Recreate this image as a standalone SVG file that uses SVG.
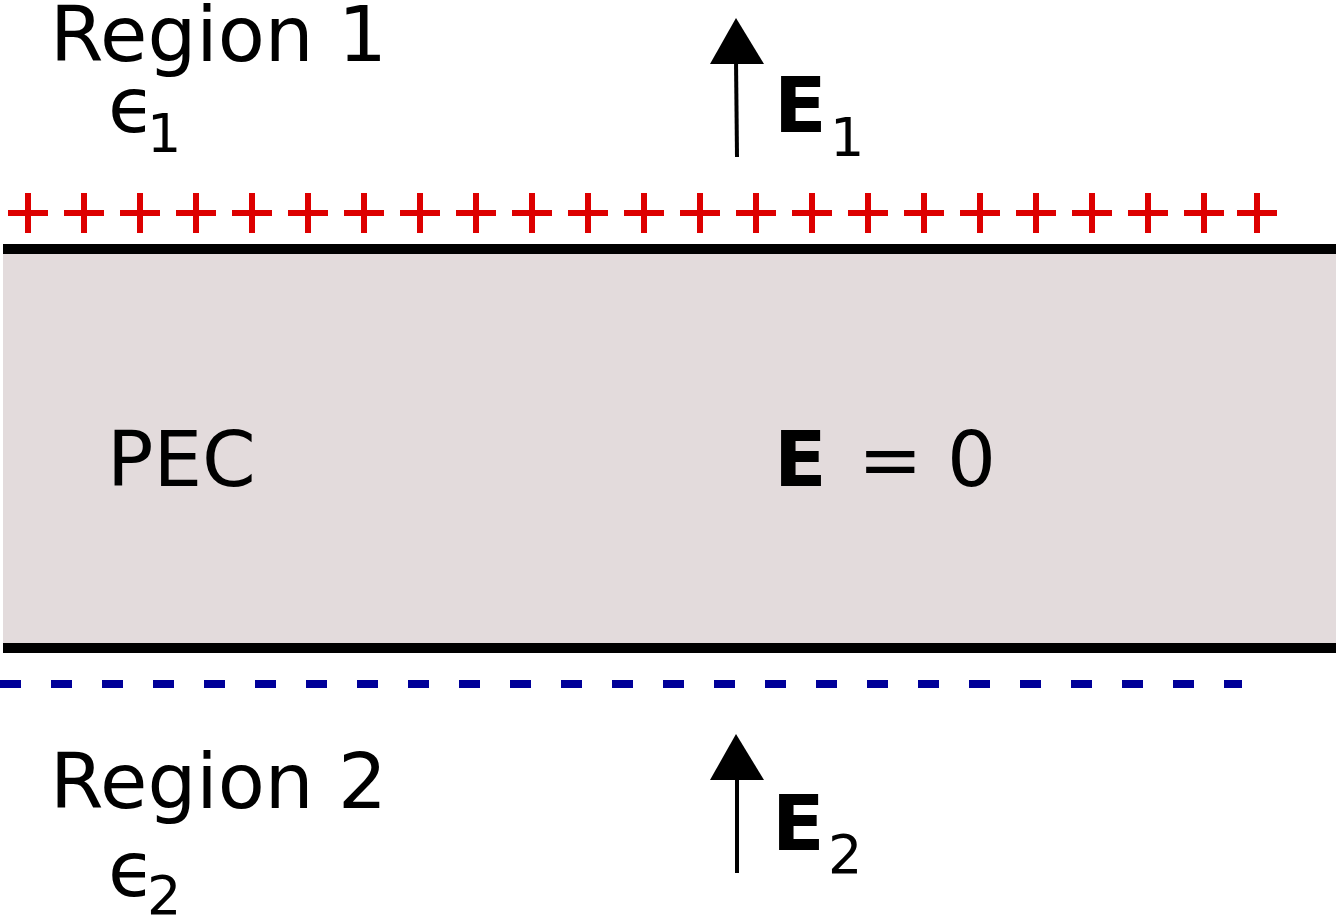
<svg xmlns="http://www.w3.org/2000/svg" width="1339" height="919" viewBox="0 0 1339 919">
<style>
text{font-family:"DejaVu Sans",sans-serif;fill:#000}
.big{font-size:77px}
.sub{font-size:54px}
.b{font-weight:bold}
</style>
<rect width="1339" height="919" fill="#fff"/>
<g id="pec"><rect x="3" y="249" width="1333" height="399" fill="#e3dbdc"/>
<line x1="3" y1="249" x2="1336" y2="249" stroke="#000" stroke-width="10"/>
<line x1="3" y1="648" x2="1336" y2="648" stroke="#000" stroke-width="10"/>
<text class="big" x="107" y="486">PEC</text>
<text class="big b" x="774" y="486">E</text><text class="big" x="858" y="486">= 0</text></g>
<g id="plus" stroke="#dd0000" stroke-width="6">
<path d="M8 213h40M28 193v40M64 213h40M84 193v40M120 213h40M140 193v40M176 213h40M196 193v40M232 213h40M252 193v40M288 213h40M308 193v40M344 213h40M364 193v40M400 213h40M420 193v40M456 213h40M476 193v40M512 213h40M532 193v40M568 213h40M588 193v40M624 213h40M644 193v40M680 213h40M700 193v40M736 213h40M756 193v40M792 213h40M812 193v40M848 213h40M868 193v40M904 213h40M924 193v40M960 213h40M980 193v40M1016 213h40M1036 193v40M1072 213h40M1092 193v40M1128 213h40M1148 193v40M1184 213h40M1204 193v40M1237 213h40M1257 193v40"/></g>
<g id="minus"><line x1="0" y1="684" x2="1242" y2="684" stroke="#000099" stroke-width="8" stroke-dasharray="21 30"/></g>
<g id="connectors">
<line x1="737" y1="157" x2="736" y2="60" stroke="#000" stroke-width="4"/>
<polygon points="736,18 710,64 764,64" fill="#000"/>
<line x1="737" y1="873" x2="737" y2="776" stroke="#000" stroke-width="4"/>
<polygon points="736,734 710,780 764,780" fill="#000"/>
</g>
<g id="region1"><text class="big" x="50" y="61">Region 1</text>
<text class="big" x="108" y="132">ϵ</text><text class="sub" x="147" y="152">1</text></g>
<g id="e1"><text class="big b" x="774" y="132">E</text><text class="sub" x="830" y="156">1</text></g>
<g id="region2"><text class="big" x="50" y="808">Region 2</text>
<text class="big" x="108" y="896">ϵ</text><text class="sub" x="147" y="914">2</text></g>
<g id="e2"><text class="big b" x="772" y="850">E</text><text class="sub" x="828" y="873">2</text></g>
</svg>
